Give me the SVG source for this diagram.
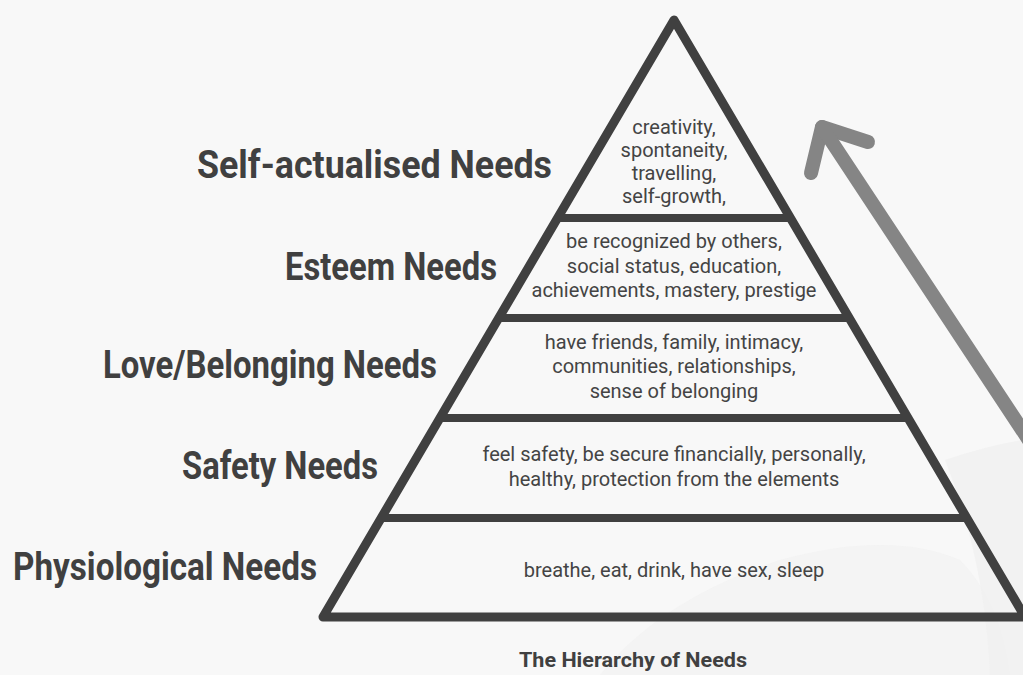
<svg xmlns="http://www.w3.org/2000/svg" width="1023" height="675" viewBox="0 0 1023 675">
<style>
.bg{fill:#f8f8f8}
.deco{fill:#efefef}
.tri{fill:none;stroke:#404040;stroke-width:9;stroke-linejoin:round}
.div{stroke:#404040;stroke-width:8}
.arrow{fill:none;stroke:#858585;stroke-width:14;stroke-linecap:round;stroke-linejoin:round}
.lbl{font-family:Roboto,"Liberation Sans",sans-serif;font-weight:bold;font-size:39px;fill:#404040;text-anchor:start}
.in{font-family:Roboto,"Liberation Sans",sans-serif;font-size:20px;fill:#444;text-anchor:middle}
.title{font-family:Roboto,"Liberation Sans",sans-serif;font-weight:bold;font-size:20px;fill:#404040}
</style>
<rect class="bg" x="0" y="0" width="1023" height="675"/>
<path class="deco" d="M600 675 Q660 600 780 560 Q890 530 960 560 Q1000 600 1010 675 Z" opacity="0.5"/>
<path class="deco" d="M945 460 Q990 445 1023 440 L1023 675 L990 675 Q985 560 945 460 Z" opacity="0.7"/>
<g id="pyramid">
<polygon class="tri" points="674,20 1025,617 323,617"/>
</g>
<g id="connectors">
<line class="div" x1="557" y1="218" x2="791" y2="218"/>
<line class="div" x1="498" y1="318" x2="850" y2="318"/>
<line class="div" x1="440" y1="418" x2="908" y2="418"/>
<line class="div" x1="381" y1="518" x2="967" y2="518"/>
<polyline class="arrow" points="868,142 822,127 811,173"/>
<line class="arrow" x1="822" y1="127" x2="1040" y2="457"/>
</g>
<g id="self-actualised">
<text class="lbl" x="197" y="178" textLength="355" lengthAdjust="spacingAndGlyphs">Self-actualised Needs</text>
<text class="in" x="674" y="134">creativity,</text>
<text class="in" x="674" y="157">spontaneity,</text>
<text class="in" x="674" y="180">travelling,</text>
<text class="in" x="674" y="203">self-growth,</text>
</g>
<g id="esteem">
<text class="lbl" x="285" y="280" textLength="212" lengthAdjust="spacingAndGlyphs">Esteem Needs</text>
<text class="in" x="674" y="248">be recognized by others,</text>
<text class="in" x="674" y="273">social status, education,</text>
<text class="in" x="674" y="297">achievements, mastery, prestige</text>
</g>
<g id="love">
<text class="lbl" x="103" y="378" textLength="334" lengthAdjust="spacingAndGlyphs">Love/Belonging Needs</text>
<text class="in" x="674" y="349">have friends, family, intimacy,</text>
<text class="in" x="674" y="373">communities, relationships,</text>
<text class="in" x="674" y="398">sense of belonging</text>
</g>
<g id="safety">
<text class="lbl" x="182" y="479" textLength="196" lengthAdjust="spacingAndGlyphs">Safety Needs</text>
<text class="in" x="674" y="461">feel safety, be secure financially, personally,</text>
<text class="in" x="674" y="486">healthy, protection from the elements</text>
</g>
<g id="physiological">
<text class="lbl" x="13" y="580" textLength="304" lengthAdjust="spacingAndGlyphs">Physiological Needs</text>
<text class="in" x="674" y="577">breathe, eat, drink, have sex, sleep</text>
</g>
<g id="title">
<text class="title" x="519" y="667" textLength="228" lengthAdjust="spacingAndGlyphs">The Hierarchy of Needs</text>
</g>
</svg>
